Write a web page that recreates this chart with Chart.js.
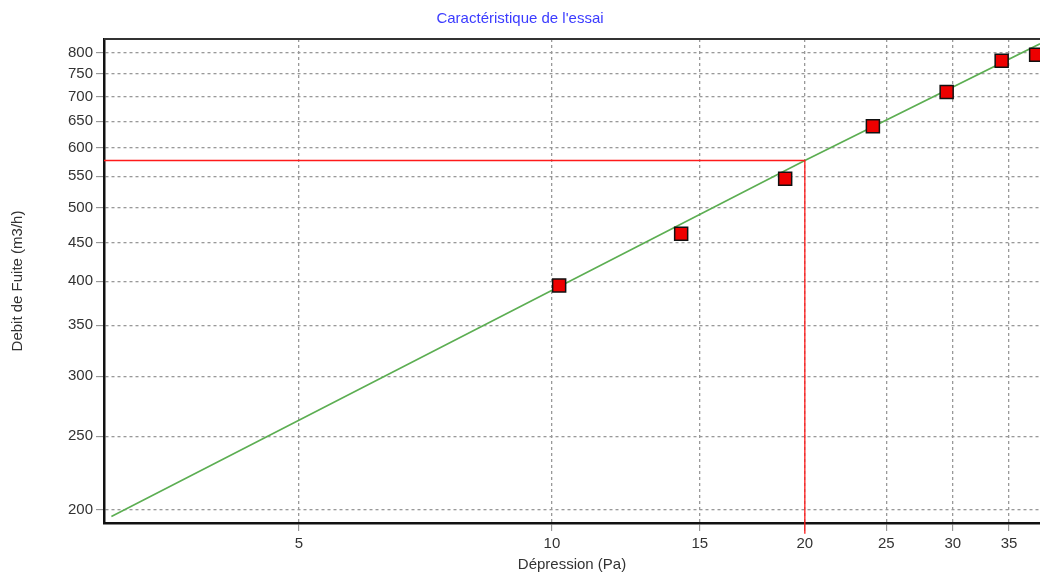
<!DOCTYPE html>
<html>
<head>
<meta charset="utf-8">
<script src="https://cdn.jsdelivr.net/npm/chart.js@4.4.1/dist/chart.umd.min.js"></script>
<style>
  html, body { margin: 0; padding: 0; background: #ffffff; }
  #wrap { width: 1040px; height: 575px; }
</style>
</head>
<body>
<div id="wrap"><canvas id="c" width="1040" height="575"></canvas></div>
<script>
// Measured points
const pressure = [10.2, 14.25, 18.95, 24.1, 29.5, 34.3, 37.7];
const flow = [395, 462, 546, 640, 710, 781, 795];
// Fitted characteristic line
const fitPressure = [2.99, 20, 38.1];
const fitFlow = [196, 577, 822];
// Reference reading at 20 Pa
const refPressure = [2.93, 20, 20];
const refFlow = [577, 577, 186];
// Axis ticks and limits
const xTicks = [5, 10, 15, 20, 25, 30, 35];
const yTicks = [200, 250, 300, 350, 400, 450, 500, 550, 600, 650, 700, 750, 800];
const xMin = 2.93, xMax = 38.1;
const yMin = 192.2, yMax = 834;

const toPts = (xs, ys) => xs.map((x, i) => ({ x: x, y: ys[i] }));

const topBorder = {
  id: 'topBorder',
  beforeDatasetsDraw(chart) {
    const { ctx, chartArea } = chart;
    ctx.save();
    ctx.strokeStyle = '#333333';
    ctx.lineWidth = 2;
    ctx.beginPath();
    ctx.moveTo(chartArea.left, chartArea.top);
    ctx.lineTo(chartArea.right, chartArea.top);
    ctx.stroke();
    ctx.restore();
  }
};

const tickFont = { family: 'Liberation Sans, Arial, sans-serif', size: 15 };
const noPad = (axis) => { axis.paddingLeft = 0; axis.paddingRight = 0; axis.paddingTop = 0; axis.paddingBottom = 0; };

new Chart(document.getElementById('c'), {
  type: 'scatter',
  data: {
    datasets: [
      {
        label: 'Mesures',
        data: toPts(pressure, flow),
        pointStyle: 'rect',
        pointRadius: 9.2,
        pointHoverRadius: 9.2,
        backgroundColor: '#ee0000',
        borderColor: '#111111',
        borderWidth: 1.5,
        showLine: false
      },
      {
        label: 'Référence',
        data: toPts(refPressure, refFlow),
        showLine: true,
        borderColor: '#ff1a1a',
        borderWidth: 1.3,
        pointRadius: 0,
        fill: false,
        clip: { left: 0, top: 0, right: 0, bottom: 12 }
      },
      {
        label: 'Caractéristique',
        data: toPts(fitPressure, fitFlow),
        showLine: true,
        borderColor: '#5cae52',
        borderWidth: 1.6,
        pointRadius: 0,
        fill: false
      }
    ]
  },
  options: {
    responsive: false,
    animation: false,
    devicePixelRatio: 1,
    layout: { autoPadding: false, padding: { left: 0, right: 0, top: 0, bottom: 0 } },
    plugins: {
      legend: { display: false },
      tooltip: { enabled: false },
      title: {
        display: true,
        text: "Caractéristique de l'essai",
        color: '#3b3bff',
        font: { family: 'Liberation Sans, Arial, sans-serif', size: 15, weight: 'normal' },
        padding: { top: 10, bottom: 11 }
      }
    },
    scales: {
      x: {
        type: 'logarithmic',
        min: xMin,
        max: xMax,
        bounds: 'data',
        afterBuildTicks: (axis) => { axis.ticks = xTicks.map(v => ({ value: v })); },
        afterFit: (axis) => { axis.height = 52; noPad(axis); },
        ticks: {
          autoSkip: false,
          maxRotation: 0,
          color: '#333333',
          font: tickFont,
          padding: 4,
          callback: (v) => String(v)
        },
        grid: {
          color: '#999999',
          lineWidth: 1.3,
          drawTicks: true,
          tickLength: 8,
          tickColor: '#888888',
          tickWidth: 1
        },
        border: { display: true, color: '#111111', width: 2.5, dash: [3, 3] },
        title: {
          display: true,
          text: 'Dépression (Pa)',
          color: '#333333',
          font: tickFont,
          padding: { top: 0, bottom: 1 }
        }
      },
      y: {
        type: 'logarithmic',
        min: yMin,
        max: yMax,
        bounds: 'data',
        afterBuildTicks: (axis) => { axis.ticks = yTicks.map(v => ({ value: v })); },
        afterFit: (axis) => { axis.width = 104; noPad(axis); },
        ticks: {
          autoSkip: false,
          color: '#333333',
          font: tickFont,
          padding: 3,
          callback: (v) => String(v)
        },
        grid: {
          color: '#999999',
          lineWidth: 1.3,
          drawTicks: true,
          tickLength: 8,
          tickColor: '#888888',
          tickWidth: 1
        },
        border: { display: true, color: '#111111', width: 2.5, dash: [3, 3] },
        title: {
          display: true,
          text: 'Debit de Fuite (m3/h)',
          color: '#333333',
          font: tickFont,
          padding: { top: 9, bottom: 0 }
        }
      }
    }
  },
  plugins: [topBorder]
});
</script>
</body>
</html>
